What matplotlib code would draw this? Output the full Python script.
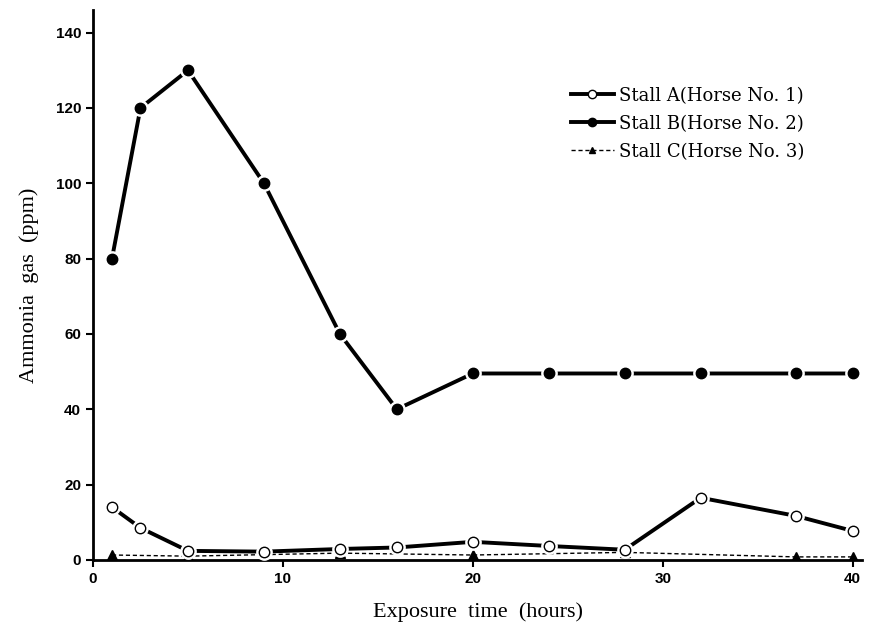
import matplotlib
matplotlib.use("Agg")
import matplotlib.pyplot as plt

# exposure times (hours) and ammonia concentrations (ppm)
hours_ab = [1, 2.5, 5, 9, 13, 16, 20, 24, 28, 32, 37, 40]
stall_a = [14, 8.5, 2.4, 2.2, 2.9, 3.3, 4.8, 3.7, 2.7, 16.5, 11.7, 7.7]
stall_b = [80, 120, 130, 100, 60, 40, 49.5, 49.5, 49.5, 49.5, 49.5, 49.5]
hours_c = [1, 5, 13, 20, 28, 37, 40]
stall_c = [1.3, 1.0, 1.8, 1.3, 2.0, 0.8, 0.8]

labels = ['Stall A(Horse No. 1)', 'Stall B(Horse No. 2)', 'Stall C(Horse No. 3)']

fig = plt.figure(figsize=(8.74, 6.27), dpi=100)
ax = fig.add_axes([0.1064, 0.107, 0.880, 0.877])

# dashed line for stall C
lc, = ax.plot(hours_c, stall_c, color='black', lw=1.0, ls=(0, (3, 2)),
              marker='^', ms=7, mfc='black', mec='black', zorder=2)

# thick lines with small gaps around the markers
la, = ax.plot(hours_ab, stall_a, color='black', lw=2.8, zorder=3)
ax.plot(hours_ab, stall_a, ls='none', marker='o', ms=11, mfc='white', mec='white', zorder=4)
ax.plot(hours_ab, stall_a, ls='none', marker='o', ms=7.5, mfc='white', mec='black', mew=1.0, zorder=5)

lb, = ax.plot(hours_ab, stall_b, color='black', lw=2.8, zorder=3)
ax.plot(hours_ab, stall_b, ls='none', marker='o', ms=11, mfc='white', mec='white', zorder=4)
ax.plot(hours_ab, stall_b, ls='none', marker='o', ms=7.5, mfc='black', mec='black', zorder=5)

ax.set_xlim(0, 40.5)
ax.set_ylim(0, 146)
ax.set_xticks([0, 10, 20, 30, 40])
ax.set_yticks([0, 20, 40, 60, 80, 100, 120, 140])
for s in ['top', 'right']:
    ax.spines[s].set_visible(False)
for s in ['left', 'bottom']:
    ax.spines[s].set_linewidth(2)
ax.tick_params(direction='out', length=5, width=1.5, labelsize=11)
for t in ax.get_xticklabels() + ax.get_yticklabels():
    t.set_fontfamily('Liberation Sans')
    t.set_fontweight('bold')

ax.set_xlabel('Exposure  time  (hours)', fontsize=16, family='Liberation Serif', labelpad=12)
ax.set_ylabel('Ammonia  gas  (ppm)', fontsize=16, family='Liberation Serif', labelpad=12)

# legend handles
ha, = ax.plot([], [], color='black', lw=2.8, marker='o', ms=6, mfc='white', mec='black')
hb, = ax.plot([], [], color='black', lw=2.8, marker='o', ms=6, mfc='black', mec='black')
hc, = ax.plot([], [], color='black', lw=1.0, ls=(0, (3, 2)), marker='^', ms=5, mfc='black')
ax.legend([ha, hb, hc], labels, loc='upper left', bbox_to_anchor=(0.60, 0.89),
          frameon=False, prop={'family': 'DejaVu Serif', 'size': 13},
          handlelength=2.4, handletextpad=0.3, labelspacing=0.55)

fig.savefig('out.png', dpi=100)
